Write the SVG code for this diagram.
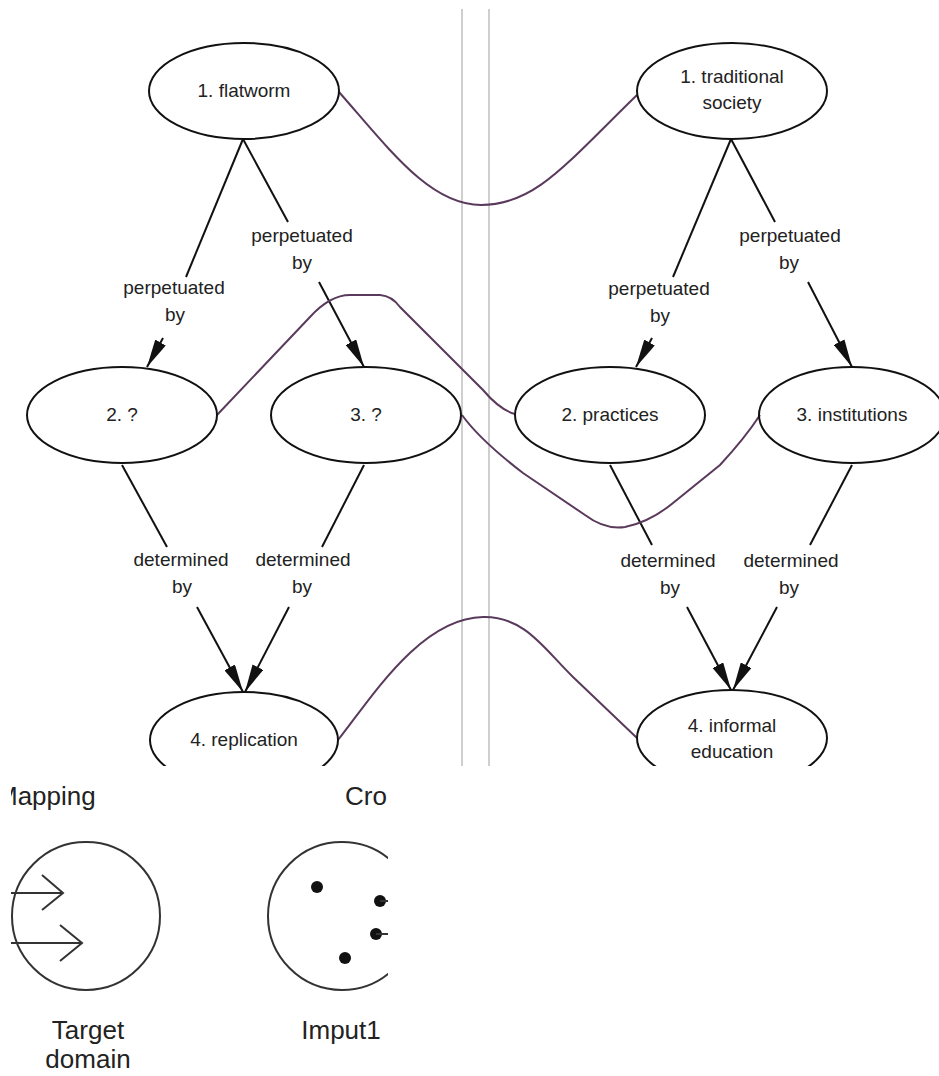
<svg xmlns="http://www.w3.org/2000/svg" width="939" height="1076" viewBox="0 0 939 1076">
<style>
.node{fill:none;stroke:#111;stroke-width:2}
.t{font-family:"Liberation Sans",Arial,sans-serif;font-size:19px;fill:#222;text-anchor:middle}
.lbl{font-family:"Liberation Sans",Arial,sans-serif;font-size:19px;fill:#222;text-anchor:middle}
.edge{stroke:#111;stroke-width:2;fill:none}
.arr{stroke:#111;stroke-width:2;fill:none;marker-end:url(#ah)}
.map{fill:none;stroke:#5a3a5c;stroke-width:2}
.guide{stroke:#cfcfcf;stroke-width:2}
.big{font-family:"Liberation Sans",Arial,sans-serif;font-size:26px;fill:#222}
.circ{fill:none;stroke:#333;stroke-width:2}
</style>
<defs>
<marker id="ah" viewBox="0 0 28 12" refX="28" refY="6" markerWidth="28" markerHeight="12" markerUnits="userSpaceOnUse" orient="auto">
<path d="M0,0 L28,6 L0,12 z" fill="#111"/>
</marker>
<clipPath id="top"><rect x="0" y="0" width="939" height="766"/></clipPath>
<clipPath id="bot"><rect x="11" y="767" width="377" height="309"/></clipPath>
</defs>
<rect width="939" height="1076" fill="#fff"/>
<g clip-path="url(#top)">
<g id="guides">
<line class="guide" x1="462" y1="9" x2="462" y2="766"/>
<line class="guide" x1="489" y1="9" x2="489" y2="766"/>
</g>
<g id="connectors">
<line class="edge" x1="243" y1="139" x2="186" y2="277"/>
<line class="arr" x1="163" y1="338" x2="147" y2="367"/>
<line class="edge" x1="243" y1="139" x2="288" y2="222"/>
<line class="arr" x1="319" y1="282" x2="364" y2="367"/>
<line class="edge" x1="122" y1="465" x2="167" y2="547"/>
<line class="arr" x1="197" y1="607" x2="243" y2="692"/>
<line class="edge" x1="364" y1="465" x2="322" y2="547"/>
<line class="arr" x1="289" y1="607" x2="245" y2="692"/>
<line class="edge" x1="731" y1="139" x2="673" y2="277"/>
<line class="arr" x1="652" y1="338" x2="636" y2="367"/>
<line class="edge" x1="731" y1="139" x2="775" y2="222"/>
<line class="arr" x1="808" y1="282" x2="852" y2="367"/>
<line class="edge" x1="610" y1="465" x2="652" y2="545"/>
<line class="arr" x1="687" y1="607" x2="731" y2="690"/>
<line class="edge" x1="852" y1="465" x2="810" y2="545"/>
<line class="arr" x1="777" y1="607" x2="733" y2="690"/>
<text class="lbl" x="174" y="294">perpetuated</text>
<text class="lbl" x="175" y="321">by</text>
<text class="lbl" x="302" y="242">perpetuated</text>
<text class="lbl" x="302" y="269">by</text>
<text class="lbl" x="181" y="566">determined</text>
<text class="lbl" x="182" y="593">by</text>
<text class="lbl" x="303" y="566">determined</text>
<text class="lbl" x="302" y="593">by</text>
<text class="lbl" x="659" y="295">perpetuated</text>
<text class="lbl" x="660" y="322">by</text>
<text class="lbl" x="790" y="242">perpetuated</text>
<text class="lbl" x="789" y="269">by</text>
<text class="lbl" x="668" y="567">determined</text>
<text class="lbl" x="670" y="594">by</text>
<text class="lbl" x="791" y="567">determined</text>
<text class="lbl" x="789" y="594">by</text>
</g>
<g id="mappings">
<path class="map" d="M339,92 C390,150 430,205 481,205 C535,205 565,165 637,95"/>
<path class="map" d="M217,415 L310,317 Q330,295 350,295 L380,295 Q392,296 400,307 L483,390 Q500,410 515,414"/>
<path class="map" d="M462,415 Q480,440 523,473 L585,515 Q605,530 625,527 Q650,522 673,503 L720,465 Q745,438 760,415"/>
<path class="map" d="M338,740 C370,700 420,618 483,617 C525,616 545,650 573,677 L637,738"/>
</g>
<g id="n-flatworm">
<ellipse class="node" cx="244" cy="91" rx="95" ry="48"/>
<text class="t" x="244" y="97">1. flatworm</text>
</g>
<g id="n-q2">
<ellipse class="node" cx="122" cy="415" rx="95" ry="48"/>
<text class="t" x="122" y="421">2. ?</text>
</g>
<g id="n-q3">
<ellipse class="node" cx="366" cy="415" rx="95" ry="48"/>
<text class="t" x="366" y="421">3. ?</text>
</g>
<g id="n-replication">
<ellipse class="node" cx="244" cy="740" rx="94" ry="48"/>
<text class="t" x="244" y="746">4. replication</text>
</g>
<g id="n-traditional">
<ellipse class="node" cx="732" cy="91" rx="95" ry="48"/>
<text class="t" x="732" y="83">1. traditional</text>
<text class="t" x="732" y="109">society</text>
</g>
<g id="n-practices">
<ellipse class="node" cx="610" cy="415" rx="95" ry="48"/>
<text class="t" x="610" y="421">2. practices</text>
</g>
<g id="n-institutions">
<ellipse class="node" cx="852" cy="415" rx="93" ry="48"/>
<text class="t" x="852" y="421">3. institutions</text>
</g>
<g id="n-informal">
<ellipse class="node" cx="732" cy="738" rx="95" ry="48"/>
<text class="t" x="732" y="732">4. informal</text>
<text class="t" x="732" y="758">education</text>
</g>
</g>
<g id="bottom-panel" clip-path="url(#bot)">
<text class="big" x="-4" y="805">Mapping</text>
<text class="big" x="345" y="805">Cro</text>
<g id="target-domain">
<circle class="circ" cx="86" cy="916" r="74"/>
<line class="circ" x1="0" y1="893" x2="63" y2="893"/>
<polyline class="circ" points="42,875 63,893 42,910"/>
<line class="circ" x1="0" y1="943" x2="82" y2="943"/>
<polyline class="circ" points="60,925 82,943 60,961"/>
<text class="big" x="88" y="1039" text-anchor="middle">Target</text>
<text class="big" x="88" y="1068" text-anchor="middle">domain</text>
</g>
<g id="imput1">
<circle class="circ" cx="342" cy="916" r="74"/>
<circle cx="317" cy="887" r="6" fill="#111"/>
<circle cx="380" cy="901" r="6" fill="#111"/>
<circle cx="376" cy="934" r="6" fill="#111"/>
<circle cx="345" cy="958" r="6" fill="#111"/>
<line class="circ" x1="380" y1="901" x2="395" y2="901"/>
<line class="circ" x1="376" y1="934" x2="395" y2="934"/>
<text class="big" x="341" y="1039" text-anchor="middle">Imput1</text>
</g>
</g>
</svg>
